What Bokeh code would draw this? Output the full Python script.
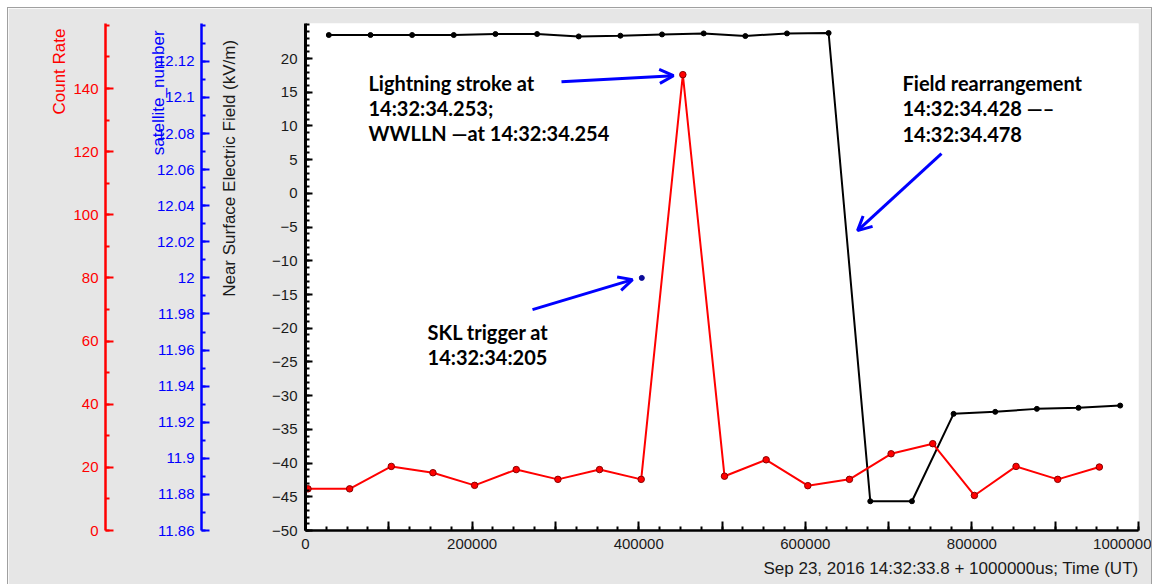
from bokeh.plotting import figure
from bokeh.models import (Range1d, LinearAxis, FixedTicker, Label, Arrow, OpenHead,
                          Title, PrintfTickFormatter, BasicTickFormatter, Spacer)
from bokeh.layouts import column, row
from bokeh.embed import file_html
from bokeh.resources import INLINE

# ---------------- data ----------------
time_count = [3000, 53000, 103000, 153000, 203000, 253000, 303000, 353000, 403000, 453000,
              503000, 553000, 603000, 653000, 703000, 753000, 803000, 853000, 903000, 953000]
count_rate = [13.2, 13.2, 20.3, 18.3, 14.3, 19.3, 16.2, 19.3, 16.2, 144.4,
              17.2, 22.4, 14.2, 16.2, 24.3, 27.5, 11.1, 20.3, 16.2, 20.1]

time_field = [28000, 78000, 128000, 178000, 228000, 278000, 328000, 378000, 428000, 478000,
              528000, 578000, 628000, 678000, 728000, 778000, 828000, 878000, 928000, 978000]
field_kvm = [23.49, 23.49, 23.49, 23.49, 23.64, 23.64, 23.28, 23.39, 23.58, 23.73,
             23.34, 23.73, 23.79, -45.66, -45.66, -32.70, -32.40, -31.96, -31.81, -31.47]

time_sat = [403700]
sat_number = [12.0]

field_ticks = [-50, -45, -40, -35, -30, -25, -20, -15, -10, -5, 0, 5, 10, 15, 20]
field_minor = [-50, -49, -48, -47, -46, -45, -44, -43, -42, -41, -40, -39, -38, -37, -36, -35,
               -34, -33, -32, -31, -30, -29, -28, -27, -26, -25, -24, -23, -22, -21, -20, -19,
               -18, -17, -16, -15, -14, -13, -12, -11, -10, -9, -8, -7, -6, -5, -4, -3, -2, -1,
               0, 1, 2, 3, 4, 5, 6, 7, 8, 9, 10, 11, 12, 13, 14, 15, 16, 17, 18, 19, 20, 21, 22,
               23, 24, 25]
count_ticks = [0, 20, 40, 60, 80, 100, 120, 140]
count_minor = [0, 10, 20, 30, 40, 50, 60, 70, 80, 90, 100, 110, 120, 130, 140, 150, 160]
sat_ticks = [11.86, 11.88, 11.90, 11.92, 11.94, 11.96, 11.98, 12.00, 12.02, 12.04, 12.06,
             12.08, 12.10, 12.12]
sat_minor = [11.86, 11.87, 11.88, 11.89, 11.90, 11.91, 11.92, 11.93, 11.94, 11.95, 11.96,
             11.97, 11.98, 11.99, 12.00, 12.01, 12.02, 12.03, 12.04, 12.05, 12.06, 12.07,
             12.08, 12.09, 12.10, 12.11, 12.12, 12.13, 12.14]
time_ticks = [0, 100000, 200000, 300000, 400000, 500000, 600000, 700000, 800000, 900000, 1000000]
time_tick_labels = ["0", "", "200000", "", "400000", "", "600000", "", "800000", "", "1000000"]
time_minor = [0, 25000, 50000, 75000, 100000, 125000, 150000, 175000, 200000, 225000, 250000,
              275000, 300000, 325000, 350000, 375000, 400000, 425000, 450000, 475000, 500000,
              525000, 550000, 575000, 600000, 625000, 650000, 675000, 700000, 725000, 750000,
              775000, 800000, 825000, 850000, 875000, 900000, 925000, 950000, 975000, 1000000]

FONT = "Liberation Sans"
GRAY = "#e6e6e6"
NBSP = "\u00a0"

p = figure(width=1143, height=576, x_range=Range1d(0, 1000000), y_range=Range1d(-50, 25.2),
           output_backend="svg", toolbar_location=None,
           min_border_left=297, min_border_right=13, min_border_top=15, min_border_bottom=54,
           border_fill_color=GRAY, background_fill_color="white", outline_line_color=None)
p.xgrid.visible = False
p.ygrid.visible = False
p.extra_y_ranges = {"count": Range1d(0, 160.6), "sat": Range1d(11.86, 12.141)}


def style_title(ax, color, standoff):
    ax.axis_label_text_font = FONT
    ax.axis_label_text_font_size = "17px"
    ax.axis_label_text_font_style = "normal"
    ax.axis_label_text_color = color
    ax.axis_label_standoff = standoff


# main (electric field) axis; leading no-break spaces push the centred title to the top
ya = p.yaxis[0]
ya.ticker = FixedTicker(ticks=field_ticks, minor_ticks=field_minor)
ya.axis_label = NBSP * 46 + "Near Surface Electric Field (kV/m)"
ya.axis_line_width = 3
ya.axis_line_color = "black"
ya.major_tick_in = 7
ya.major_tick_out = 0
ya.minor_tick_in = 4
ya.minor_tick_out = 0
ya.major_tick_line_width = 2
ya.minor_tick_line_width = 2
ya.major_label_standoff = 8
ya.major_label_text_font = FONT
ya.major_label_text_font_size = "15px"
ya.major_label_text_color = "#1a1a1a"
style_title(ya, "#1a1a1a", 30)


def spacer_axis(standoff):
    return LinearAxis(ticker=FixedTicker(ticks=[]), major_tick_out=0, major_tick_in=0,
                      minor_tick_out=0, minor_tick_in=0, axis_line_color=None,
                      major_tick_line_color=None, minor_tick_line_color=None,
                      major_label_standoff=0, axis_label=".", axis_label_text_alpha=0,
                      axis_label_text_font_size="1px", axis_label_standoff=standoff)


sat_ax = LinearAxis(y_range_name="sat", ticker=FixedTicker(ticks=sat_ticks, minor_ticks=sat_minor),
                    formatter=PrintfTickFormatter(format="%g"),
                    axis_label=NBSP * 78 + "satellite_number",
                    axis_line_color="blue", axis_line_width=2.5,
                    major_tick_line_color="blue", minor_tick_line_color="blue",
                    major_tick_line_width=2, minor_tick_line_width=2,
                    major_tick_in=8, major_tick_out=0, minor_tick_in=4, minor_tick_out=0,
                    major_label_standoff=7, major_label_text_font=FONT,
                    major_label_text_font_size="15px", major_label_text_color="blue")
style_title(sat_ax, "blue", -14)

cnt_ax = LinearAxis(y_range_name="count", ticker=FixedTicker(ticks=count_ticks, minor_ticks=count_minor),
                    axis_label=NBSP * 87 + "Count Rate",
                    axis_line_color="red", axis_line_width=2.5,
                    major_tick_line_color="red", minor_tick_line_color="red",
                    major_tick_line_width=2, minor_tick_line_width=2,
                    major_tick_in=8, major_tick_out=0, minor_tick_in=4, minor_tick_out=0,
                    major_label_standoff=7, major_label_text_font=FONT,
                    major_label_text_font_size="15px", major_label_text_color="red")
style_title(cnt_ax, "red", 1)

p.add_layout(spacer_axis(12), "left")
p.add_layout(sat_ax, "left")
p.add_layout(spacer_axis(36), "left")
p.add_layout(cnt_ax, "left")

# x axis
xa = p.xaxis[0]
xa.ticker = FixedTicker(ticks=time_ticks, minor_ticks=time_minor)
xa.formatter = BasicTickFormatter(use_scientific=False)
xa.major_label_overrides = {t: s for t, s in zip(time_ticks, time_tick_labels)}
xa.axis_line_width = 2.5
xa.major_tick_in = 9
xa.major_tick_out = 0
xa.minor_tick_in = 4
xa.minor_tick_out = 0
xa.major_tick_line_width = 2
xa.minor_tick_line_width = 2
xa.major_label_standoff = 8
xa.major_label_text_font = FONT
xa.major_label_text_font_size = "15px"
xa.major_label_text_color = "#1a1a1a"

p.add_layout(Title(text="Sep 23, 2016 14:32:33.8 + 1000000us; Time (UT)", align="right",
                   text_font=FONT, text_font_size="17px", text_font_style="normal",
                   text_color="#1a1a1a"), "below")

# series
p.line(time_field, field_kvm, line_color="black", line_width=2)
p.scatter(time_field, field_kvm, size=5, fill_color="black", line_color="black")

p.line(time_count, count_rate, line_color="red", line_width=2, y_range_name="count")
p.scatter(time_count, count_rate, size=6.5, fill_color="red", line_color="#8b0000",
          line_width=1, y_range_name="count")

p.scatter(time_sat, sat_number, size=5, fill_color="#0a0a99", line_color="#0a0a99",
          y_range_name="sat")


# annotations
def add_text(x, y, txt):
    p.add_layout(Label(x=x, y=y, text=txt, text_font="Lato", text_font_style="bold",
                       text_font_size="20px", text_baseline="middle", text_color="black"))


add_text(75600, 16.42, "Lightning stroke at")
add_text(75600, 12.71, "14:32:34.253;")
add_text(75600, 9.01, "WWLLN —at 14:32:34.254")
add_text(716700, 16.42, "Field rearrangement")
add_text(716700, 12.62, "14:32:34.428 —–")
add_text(716700, 8.86, "14:32:34.478")
add_text(146500, -20.57, "SKL trigger at")
add_text(146500, -24.28, "14:32:34:205")

for xs, ys, xe, ye in [(307300, 16.57, 441800, 17.46),
                       (272500, -17.24, 392600, -12.79),
                       (763500, 5.89, 662700, -5.52)]:
    p.add_layout(Arrow(end=OpenHead(size=14, line_color="blue", line_width=3),
                       x_start=xs, y_start=ys, x_end=xe, y_end=ye,
                       line_color="blue", line_width=3))

p.styles = {"outline": "1px solid #a0a0a0"}

layout = column(Spacer(width=1153, height=8), row(Spacer(width=8, height=576), p))
open("out.html", "w").write(file_html(layout, INLINE))
